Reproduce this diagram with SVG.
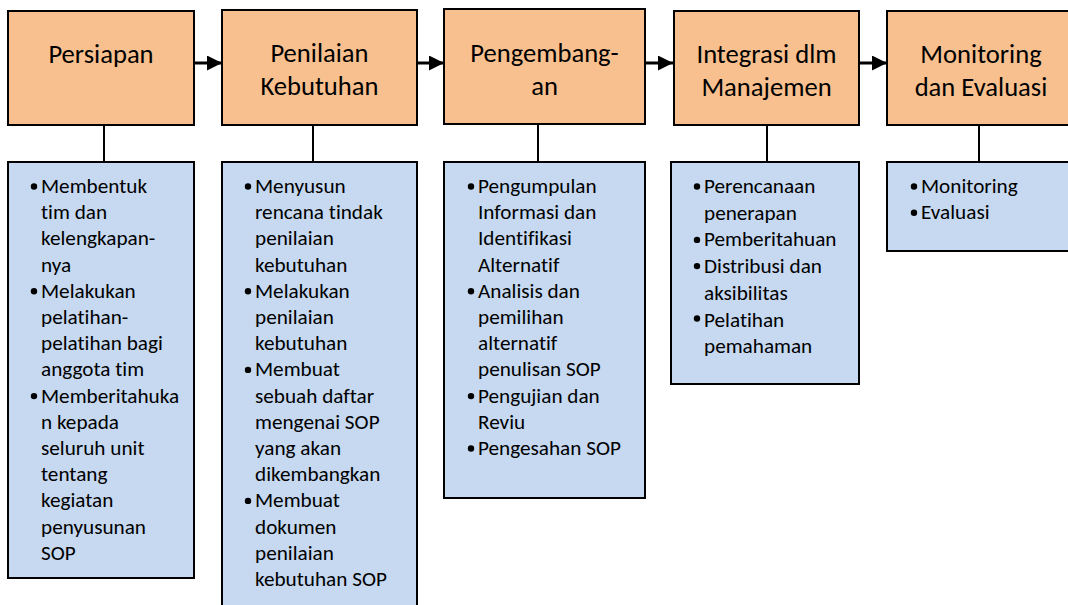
<svg xmlns="http://www.w3.org/2000/svg" width="1068" height="605" viewBox="0 0 1068 605">
<style>
.top{fill:#F9C08F;stroke:#000;stroke-width:2}
.sub{fill:#C6D9F0;stroke:#000;stroke-width:2}
.ttl{font-family:Carlito,Lato,"Liberation Sans",sans-serif;font-size:26.6px;fill:#000;text-anchor:middle;font-variant-ligatures:none}
.bl{font-family:Carlito,Lato,"Liberation Sans",sans-serif;font-size:21.2px;fill:#000;font-variant-ligatures:none}
.ln{stroke:#000;stroke-width:2;fill:none}
.ar{stroke:#000;stroke-width:3;fill:none}
</style>
<defs>
<marker id="ah" markerWidth="15" markerHeight="15" refX="15" refY="7.5" orient="auto" markerUnits="userSpaceOnUse">
<path d="M0,0 L15,7.5 L0,15 Z" fill="#000"/>
</marker>
<circle id="dot" r="3.2" fill="#000"/>
</defs>
<rect width="1068" height="605" fill="#fff"/>
<g id="connectors">
<line class="ar" x1="195" y1="63" x2="222" y2="63" marker-end="url(#ah)"/>
<line class="ar" x1="418" y1="63" x2="444" y2="63" marker-end="url(#ah)"/>
<line class="ar" x1="646" y1="63" x2="673" y2="63" marker-end="url(#ah)"/>
<line class="ar" x1="860" y1="63" x2="887" y2="63" marker-end="url(#ah)"/>
<line class="ln" x1="104" y1="125" x2="104" y2="162"/>
<line class="ln" x1="313" y1="125" x2="313" y2="162"/>
<line class="ln" x1="538" y1="124" x2="538" y2="162"/>
<line class="ln" x1="767" y1="125" x2="767" y2="162"/>
<line class="ln" x1="979" y1="125" x2="979" y2="162"/>
</g>
<g id="persiapan">
<rect class="top" x="8" y="11" width="186" height="114"/>
<text class="ttl" x="101" y="63">Persiapan</text>
</g>
<g id="penilaian">
<rect class="top" x="222" y="10" width="195" height="115"/>
<text class="ttl" x="319.5" y="62">Penilaian<tspan x="319.5" dy="33">Kebutuhan</tspan></text>
</g>
<g id="pengembangan">
<rect class="top" x="444" y="9" width="201" height="115"/>
<text class="ttl" x="544.5" y="62">Pengembang-<tspan x="544.5" dy="33">an</tspan></text>
</g>
<g id="integrasi">
<rect class="top" x="674" y="11" width="185" height="114"/>
<text class="ttl" x="766.5" y="63">Integrasi dlm<tspan x="766.5" dy="33">Manajemen</tspan></text>
</g>
<g id="monev">
<rect class="top" x="887" y="11" width="190" height="114"/>
<text class="ttl" x="981" y="63">Monitoring<tspan x="981" dy="33">dan Evaluasi</tspan></text>
</g>
<g id="persiapan-detail">
<rect class="sub" x="8" y="162" width="186" height="416"/>
<use href="#dot" x="34" y="186.5"/>
<use href="#dot" x="34" y="291.3"/>
<use href="#dot" x="34" y="396.1"/>
<text class="bl" x="41" y="193">Membentuk<tspan x="41" dy="26.2">tim dan</tspan><tspan x="41" dy="26.2">kelengkapan-</tspan><tspan x="41" dy="26.2">nya</tspan><tspan x="41" dy="26.2">Melakukan</tspan><tspan x="41" dy="26.2">pelatihan-</tspan><tspan x="41" dy="26.2">pelatihan bagi</tspan><tspan x="41" dy="26.2">anggota tim</tspan><tspan x="41" dy="26.2">Memberitahuka</tspan><tspan x="41" dy="26.2">n kepada</tspan><tspan x="41" dy="26.2">seluruh unit</tspan><tspan x="41" dy="26.2">tentang</tspan><tspan x="41" dy="26.2">kegiatan</tspan><tspan x="41" dy="26.2">penyusunan</tspan><tspan x="41" dy="26.2">SOP</tspan></text>
</g>
<g id="penilaian-detail">
<rect class="sub" x="222" y="162" width="195" height="460"/>
<use href="#dot" x="248" y="186.5"/>
<use href="#dot" x="248" y="291.3"/>
<use href="#dot" x="248" y="369.9"/>
<use href="#dot" x="248" y="500.9"/>
<text class="bl" x="255" y="193">Menyusun<tspan x="255" dy="26.2">rencana tindak</tspan><tspan x="255" dy="26.2">penilaian</tspan><tspan x="255" dy="26.2">kebutuhan</tspan><tspan x="255" dy="26.2">Melakukan</tspan><tspan x="255" dy="26.2">penilaian</tspan><tspan x="255" dy="26.2">kebutuhan</tspan><tspan x="255" dy="26.2">Membuat</tspan><tspan x="255" dy="26.2">sebuah daftar</tspan><tspan x="255" dy="26.2">mengenai SOP</tspan><tspan x="255" dy="26.2">yang akan</tspan><tspan x="255" dy="26.2">dikembangkan</tspan><tspan x="255" dy="26.2">Membuat</tspan><tspan x="255" dy="26.2">dokumen</tspan><tspan x="255" dy="26.2">penilaian</tspan><tspan x="255" dy="26.2">kebutuhan SOP</tspan></text>
</g>
<g id="pengembangan-detail">
<rect class="sub" x="444" y="162" width="201" height="336"/>
<use href="#dot" x="471" y="186.5"/>
<use href="#dot" x="471" y="291.3"/>
<use href="#dot" x="471" y="396.1"/>
<use href="#dot" x="471" y="448.5"/>
<text class="bl" x="478" y="193">Pengumpulan<tspan x="478" dy="26.2">Informasi dan</tspan><tspan x="478" dy="26.2">Identifikasi</tspan><tspan x="478" dy="26.2">Alternatif</tspan><tspan x="478" dy="26.2">Analisis dan</tspan><tspan x="478" dy="26.2">pemilihan</tspan><tspan x="478" dy="26.2">alternatif</tspan><tspan x="478" dy="26.2">penulisan SOP</tspan><tspan x="478" dy="26.2">Pengujian dan</tspan><tspan x="478" dy="26.2">Reviu</tspan><tspan x="478" dy="26.2">Pengesahan SOP</tspan></text>
</g>
<g id="integrasi-detail">
<rect class="sub" x="671" y="162" width="188" height="222"/>
<use href="#dot" x="697" y="186.5"/>
<use href="#dot" x="697" y="239.9"/>
<use href="#dot" x="697" y="266.1"/>
<use href="#dot" x="697" y="318.5"/>
<text class="bl" x="704" y="193">Perencanaan<tspan x="704" dy="26.7">penerapan</tspan><tspan x="704" dy="26.7">Pemberitahuan</tspan><tspan x="704" dy="26.7">Distribusi dan</tspan><tspan x="704" dy="26.7">aksibilitas</tspan><tspan x="704" dy="26.7">Pelatihan</tspan><tspan x="704" dy="26.7">pemahaman</tspan></text>
</g>
<g id="monev-detail">
<rect class="sub" x="887" y="162" width="190" height="89"/>
<use href="#dot" x="914" y="186.5"/>
<use href="#dot" x="914" y="212.7"/>
<text class="bl" x="921" y="193">Monitoring<tspan x="921" dy="26.2">Evaluasi</tspan></text>
</g>
</svg>
